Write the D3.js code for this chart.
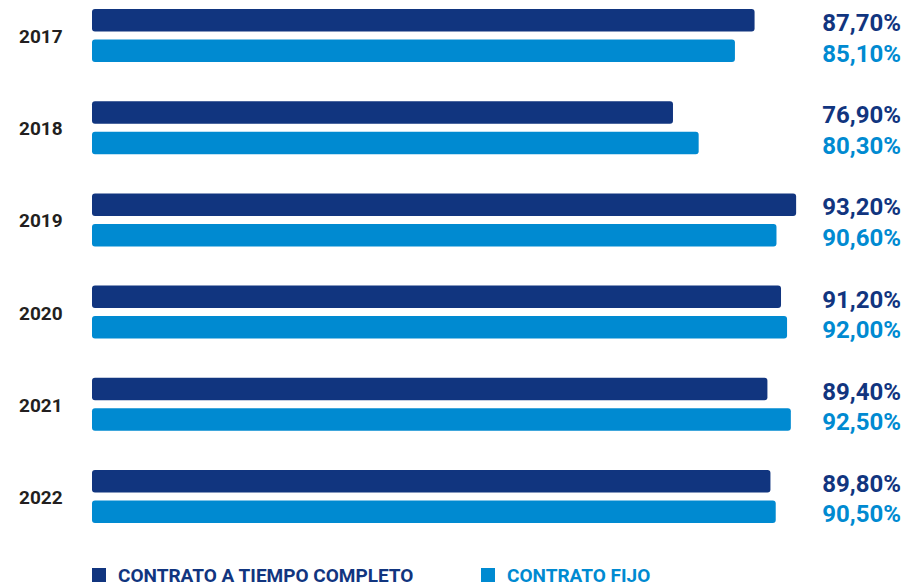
<!DOCTYPE html>
<html>
<head>
<meta charset="utf-8">
<script src="https://cdn.jsdelivr.net/npm/d3@7"></script>
<style>
  html, body { margin: 0; padding: 0; background: #fff; }
  svg { display: block; }
  text { font-family: Roboto, "Noto Sans", sans-serif; font-weight: 700; }
</style>
</head>
<body>
<svg id="chart" width="906" height="588"></svg>
<script>
// chart data
var years = ["2017", "2018", "2019", "2020", "2021", "2022"]
var tiempoCompleto = [87.7, 76.9, 93.2, 91.2, 89.4, 89.8]
var contratoFijo = [85.1, 80.3, 90.6, 92.0, 92.5, 90.5]
var seriesNames = ["CONTRATO A TIEMPO COMPLETO", "CONTRATO FIJO"]
var seriesColors = ["#11357f", "#008ad1"]

var svg = d3.select("#chart")

var x = d3.scaleLinear().domain([0, 100]).range([92, 847.5])

var y = d3.scaleBand()
    .domain(years)
    .range([9, 523])
    .paddingInner(0.425)
    .paddingOuter(0)

var ySub = d3.scaleBand()
    .domain([0, 1])
    .range([0, y.bandwidth()])
    .paddingInner(0.262)

var fmt = function(v) {
    return d3.format(".2f")(v).replace(".", ",") + "%"
}

var rows = years.map(function(yr, i) {
    return { year: yr, values: [tiempoCompleto[i], contratoFijo[i]] }
})

var g = svg.selectAll(".row")
    .data(rows).enter()
    .append("g")
    .attr("class", "row")
    .attr("transform", function(d) { return "translate(0," + y(d.year) + ")" })

// year labels
g.append("text")
    .attr("x", 19)
    .attr("y", y.bandwidth() / 2 + 7.5)
    .attr("fill", "#231f20")
    .attr("font-size", 19)
    .text(function(d) { return d.year })

// bars
g.selectAll("rect")
    .data(function(d) { return d.values }).enter()
    .append("rect")
    .attr("x", x(0))
    .attr("y", function(d, i) { return ySub(i) })
    .attr("width", function(d) { return x(d) - x(0) })
    .attr("height", ySub.bandwidth())
    .attr("rx", 3)
    .attr("fill", function(d, i) { return seriesColors[i] })

// value labels
g.selectAll(".val")
    .data(function(d) { return d.values }).enter()
    .append("text")
    .attr("class", "val")
    .attr("x", 901)
    .attr("y", function(d, i) { return ySub(i) + ySub.bandwidth() - 0.5 })
    .attr("text-anchor", "end")
    .attr("font-size", 24)
    .attr("fill", function(d, i) { return seriesColors[i] })
    .text(fmt)

// legend
var legendX = [92, 481]
var lg = svg.selectAll(".legend")
    .data(seriesNames).enter()
    .append("g")
    .attr("class", "legend")
    .attr("transform", function(d, i) { return "translate(" + legendX[i] + ",568)" })

lg.append("rect")
    .attr("width", 14)
    .attr("height", 14)
    .attr("fill", function(d, i) { return seriesColors[i] })

lg.append("text")
    .attr("x", 26)
    .attr("y", 13.5)
    .attr("font-size", 19)
    .attr("fill", function(d, i) { return seriesColors[i] })
    .text(function(d) { return d })
</script>
</body>
</html>
